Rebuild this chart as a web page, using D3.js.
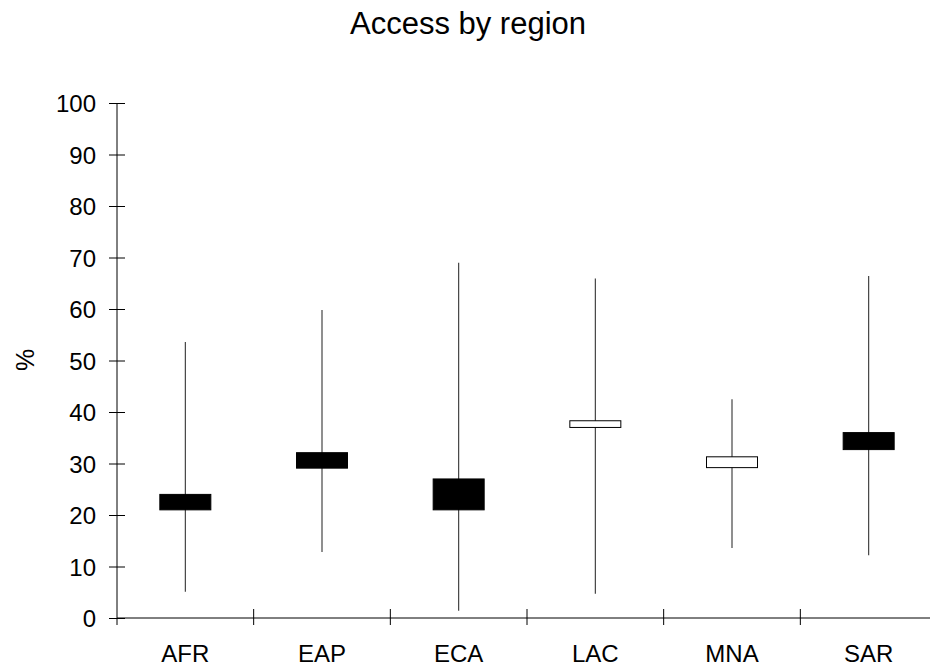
<!DOCTYPE html>
<html>
<head>
<meta charset="utf-8">
<script src="https://cdn.jsdelivr.net/npm/d3@7"></script>
<style>
  body { margin: 0; background: #fff; }
  svg text { font-family: "Liberation Sans", Arial, sans-serif; fill: #000; }
</style>
</head>
<body>
<div id="chart-area"></div>
<script>
// Regions and their access ranges (%)
const regions = ["AFR", "EAP", "ECA", "LAC", "MNA", "SAR"];
const highValues = [53.6, 59.8, 69.0, 65.9, 42.5, 66.4];
const lowValues = [5.1, 12.8, 1.4, 4.7, 13.6, 12.2];
const openValues = [24.0, 32.1, 27.0, 37.0, 29.2, 36.0];
const closeValues = [21.0, 29.1, 21.0, 38.3, 31.3, 32.7];
const yTicks = [0, 10, 20, 30, 40, 50, 60, 70, 80, 90, 100];

const data = regions.map((r, i) => ({
  region: r,
  high: highValues[i],
  low: lowValues[i],
  open: openValues[i],
  close: closeValues[i],
}));

// Set up margins, dimensions
const totalWidth = 930;
const totalHeight = 670;
const margin = { top: 103, left: 117 };
const width = 820;
const height = 515;

const svg = d3
  .select("#chart-area")
  .append("svg")
  .attr("width", totalWidth)
  .attr("height", totalHeight);

const g = svg.append("g").attr("transform", `translate(${margin.left},${margin.top})`);

const xScale = d3.scaleBand().domain(regions).range([0, width]);
const yScale = d3.scaleLinear().domain([0, 100]).range([height, 0]);

// Title
svg
  .append("text")
  .attr("x", 468)
  .attr("y", 34)
  .attr("text-anchor", "middle")
  .style("font-size", "31px")
  .text("Access by region");

// Y label
svg
  .append("text")
  .attr("transform", "translate(34,360) rotate(-90)")
  .attr("text-anchor", "middle")
  .style("font-size", "25px")
  .text("%");

// Y axis
const yAxis = g
  .append("g")
  .call(d3.axisLeft(yScale).tickValues(yTicks).tickSize(8).tickSizeOuter(0).tickPadding(13));
yAxis.select(".domain").remove();
yAxis.selectAll(".tick line").attr("x1", -8).attr("x2", 8).attr("stroke", "#000");
yAxis.selectAll(".tick text").style("font-size", "24px").attr("dy", "0.36em");
g.append("line")
  .attr("x1", 0)
  .attr("x2", 0)
  .attr("y1", yScale(100))
  .attr("y2", yScale(0) + 7)
  .attr("stroke", "#000");

// X axis (labels) plus boundary ticks
const xAxis = g
  .append("g")
  .attr("transform", `translate(0,${height})`)
  .call(d3.axisBottom(xScale).tickSize(0).tickPadding(27));
xAxis.select(".domain").attr("stroke", "#000").attr("d", `M0,0H${width}`);
xAxis.selectAll(".tick text").style("font-size", "24px");

g.selectAll(".xbound")
  .data(regions.slice(1))
  .enter()
  .append("line")
  .attr("class", "xbound")
  .attr("x1", (d) => xScale(d))
  .attr("x2", (d) => xScale(d))
  .attr("y1", height - 9)
  .attr("y2", height + 7)
  .attr("stroke", "#000");

// Wicks
const boxW = 51;
g.selectAll(".wick")
  .data(data)
  .enter()
  .append("line")
  .attr("class", "wick")
  .attr("x1", (d) => xScale(d.region) + xScale.bandwidth() / 2)
  .attr("x2", (d) => xScale(d.region) + xScale.bandwidth() / 2)
  .attr("y1", (d) => yScale(d.high))
  .attr("y2", (d) => yScale(d.low))
  .attr("stroke", "#333")
  .attr("stroke-width", 1.1);

// Boxes: black when falling, white when rising
g.selectAll(".box")
  .data(data)
  .enter()
  .append("rect")
  .attr("class", "box")
  .attr("x", (d) => xScale(d.region) + xScale.bandwidth() / 2 - boxW / 2)
  .attr("width", boxW)
  .attr("y", (d) => yScale(Math.max(d.open, d.close)))
  .attr("height", (d) => Math.abs(yScale(d.open) - yScale(d.close)))
  .attr("fill", (d) => (d.close < d.open ? "#000" : "#fff"))
  .attr("stroke", "#000")
  .attr("stroke-width", 1);
</script>
</body>
</html>
